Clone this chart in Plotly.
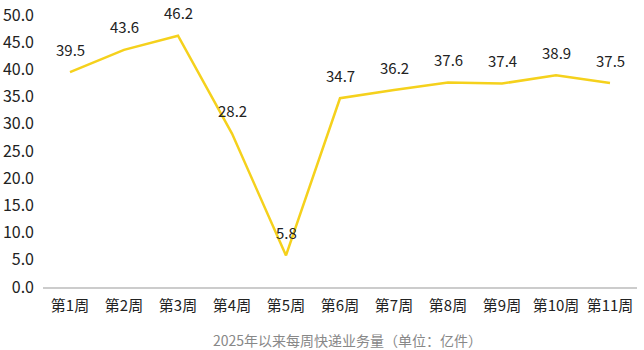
import plotly.graph_objects as go

weeks = ["第1周", "第2周", "第3周", "第4周", "第5周", "第6周", "第7周", "第8周", "第9周", "第10周", "第11周"]
volume = [39.5, 43.6, 46.2, 28.2, 5.8, 34.7, 36.2, 37.6, 37.4, 38.9, 37.5]
y_ticks = [0, 5, 10, 15, 20, 25, 30, 35, 40, 45, 50]
title_text = "2025年以来每周快递业务量（单位：亿件）"

FONT = "Noto Sans CJK SC"

fig = go.Figure()
fig.add_trace(go.Scatter(
    x=weeks, y=volume, mode="lines",
    line=dict(color="#F5D11C", width=2.5),
    hoverinfo="skip",
))

annotations = []
for w, v in zip(weeks, volume):
    annotations.append(dict(
        x=w, y=v, xref="x", yref="y", text=f"{v:.1f}", showarrow=False,
        yshift=23, font=dict(family=FONT, size=15, color="#222222"),
    ))
annotations.append(dict(
    x=0.513, y=-0.195, xref="paper", yref="paper", text=title_text, showarrow=False,
    xanchor="center", yanchor="middle",
    font=dict(family=FONT, size=14, color="#888888"),
))

fig.update_layout(
    width=644, height=350,
    margin=dict(l=43, r=7, t=15, b=63),
    paper_bgcolor="white", plot_bgcolor="white",
    showlegend=False,
    annotations=annotations,
    font=dict(family=FONT),
)
fig.update_xaxes(
    range=[-0.5, len(weeks) - 0.5],
    showgrid=False, showline=True, linecolor="#CCCCCC", linewidth=1.5,
    ticks="", tickfont=dict(family=FONT, size=15, color="#222222"),
    zeroline=False, automargin=False, ticklabelstandoff=4,
)
fig.update_yaxes(
    range=[0, 50], tickvals=y_ticks, ticktext=[f"{t:.1f}" for t in y_ticks],
    showgrid=False, showline=False, zeroline=False, ticks="",
    tickfont=dict(family=FONT, size=16, color="#222222"),
    ticklabelstandoff=8, automargin=False,
)

fig.write_html("out.html")
